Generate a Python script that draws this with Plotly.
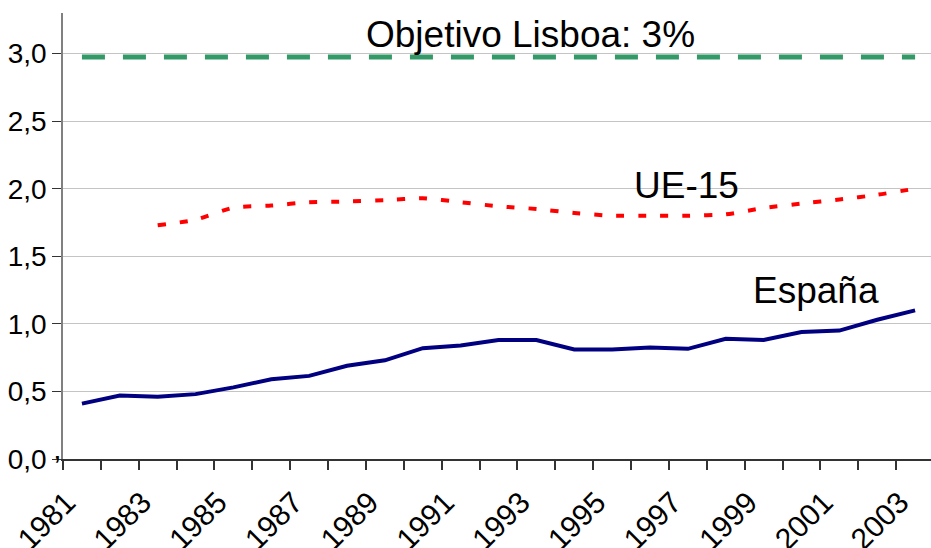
import plotly.graph_objects as go

YEARS = list(range(1981, 2004))
ESPANA = [0.41, 0.47, 0.46, 0.48, 0.53, 0.59, 0.615, 0.69, 0.73, 0.82, 0.84,
          0.88, 0.88, 0.81, 0.81, 0.825, 0.815, 0.89, 0.88, 0.94, 0.95, 1.03, 1.10]
UE15_YEARS = list(range(1983, 2004))
UE15 = [1.73, 1.77, 1.86, 1.875, 1.90, 1.905, 1.915, 1.93, 1.90, 1.87, 1.85,
        1.82, 1.80, 1.80, 1.80, 1.81, 1.857, 1.89, 1.92, 1.955, 2.00]
OBJETIVO = [2.975] * len(YEARS)

Y_TICKS = [0, 0.5, 1.0, 1.5, 2.0, 2.5, 3.0]
Y_TICKTEXT = ["0,0", "0,5", "1,0", "1,5", "2,0", "2,5", "3,0"]
X_LABEL_YEARS = list(range(1981, 2004, 2))
X_LABELS = [str(y) for y in X_LABEL_YEARS]

FONT = "Liberation Sans, Arial, sans-serif"

fig = go.Figure()
fig.add_trace(go.Scatter(x=YEARS, y=OBJETIVO, mode="lines",
                         line=dict(color="#339966", width=5, dash="23px,18px"),
                         hoverinfo="skip"))
fig.add_trace(go.Scatter(x=UE15_YEARS, y=UE15, mode="lines",
                         line=dict(color="#ff0000", width=4, dash="8px,14px", shape="spline", smoothing=0.6)))
fig.add_trace(go.Scatter(x=YEARS, y=ESPANA, mode="lines",
                         line=dict(color="#000080", width=4)))

fig.update_layout(
    width=931, height=548,
    margin=dict(l=63, r=0, t=13, b=89),
    paper_bgcolor="white", plot_bgcolor="white",
    showlegend=False,
    font=dict(family=FONT, size=30, color="black"),
    xaxis=dict(range=[1980.5, 2003.42], showgrid=False, zeroline=False, automargin=False,
               showline=True, linecolor="#333333", linewidth=1.5,
               tickmode="array", tickvals=[y - 0.4 for y in X_LABEL_YEARS], ticktext=X_LABELS,
               ticks="", tickangle=-45, tickfont=dict(size=30), ticklabelstandoff=12,
               minor=dict(tick0=1980.5, dtick=1, ticks="outside", ticklen=9, tickcolor="#333333", tickwidth=1.5, showgrid=False)),
    yaxis=dict(range=[0, 3.3], showgrid=True, gridcolor="#c4c4c4", gridwidth=1.2,
               zeroline=False, showline=True, linecolor="#808080", linewidth=1.5, automargin=False,
               tickmode="array", tickvals=Y_TICKS, ticktext=Y_TICKTEXT,
               ticks="outside", ticklen=9, tickcolor="#333333", tickfont=dict(size=28)),
)

annotations = [
    dict(text="Objetivo Lisboa: 3%", x=0.539, y=0.952),
    dict(text="UE-15", x=0.718, y=0.614),
    dict(text="España", x=0.868, y=0.377),
]
for a in annotations:
    fig.add_annotation(text=a["text"], x=a["x"], y=a["y"], xref="paper", yref="paper",
                       showarrow=False, xanchor="center", yanchor="middle",
                       font=dict(family=FONT, size=37, color="black"))

fig.add_annotation(text="’", x=0, y=0, xref="paper", yref="paper", xshift=-6, yshift=-6,
                   showarrow=False, xanchor="center", yanchor="middle",
                   font=dict(family=FONT, size=30, color="black"))

fig.write_html("out.html", config={"displayModeBar": False},
               post_script="document.body.style.margin='0';document.body.style.overflow='hidden';")
